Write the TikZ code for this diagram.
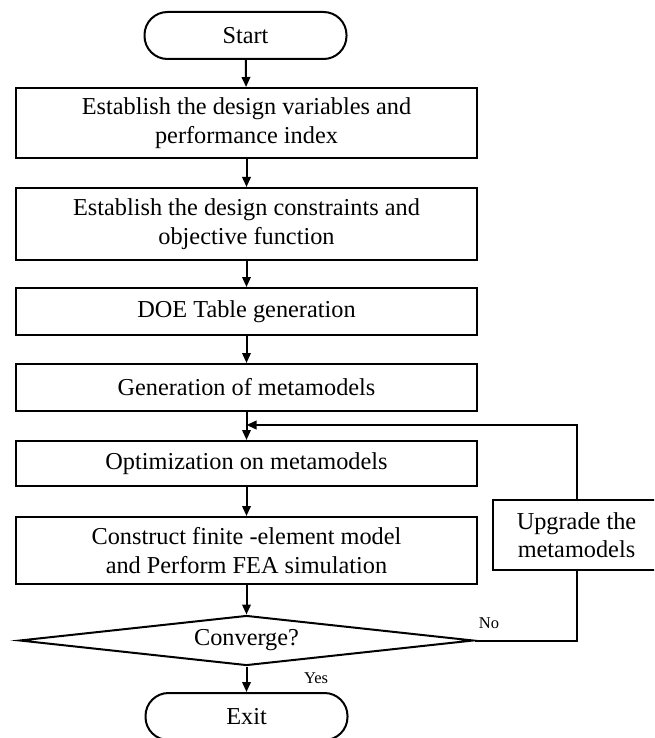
\documentclass[tikz,border=0pt]{standalone}
\usepackage{fontspec}
\setmainfont{Liberation Serif}
\usetikzlibrary{arrows.meta,shapes.geometric}
\begin{document}
\begin{tikzpicture}[x=1pt,y=-1pt,
  every node/.style={font=\fontsize{24.3}{28.5}\selectfont, inner sep=0pt, align=center},
  proc/.style={draw, line width=2pt, minimum width=461pt},
  term/.style={draw, line width=2pt, rounded corners=23pt, minimum width=202pt, minimum height=47pt},
  decision/.style={draw, diamond, line width=2pt, minimum width=454pt, minimum height=50pt, aspect=9},
  lab/.style={font=\fontsize{16.5}{19}\selectfont},
  arr/.style={line width=2pt, -{Triangle[length=10pt,width=8.5pt]}},
  ln/.style={line width=2pt}]
\useasboundingbox (0,0) rectangle (654,738);
\clip (0,0) rectangle (654,738);
\fill[white] (0,0) rectangle (654,738);

\node[term] (start) at (245.5,35.5) {Start};
\node[proc, minimum height=70pt] (b1) at (246.5,123) {Establish the design variables and\\performance index};
\node[proc, minimum height=72pt] (b2) at (246.5,224) {Establish the design constraints and\\objective function};
\node[proc, minimum height=47pt] (b3) at (246.5,311.5) {DOE Table generation};
\node[proc, minimum height=47pt] (b4) at (246.5,387.5) {Generation of metamodels};
\node[proc, minimum height=45pt] (b5) at (246.5,463.5) {Optimization on metamodels};
\node[proc, minimum height=67pt] (b6) at (246.5,550.5) {Construct finite -element model\\and Perform FEA simulation};
\node[decision] (dia) at (246.5,640.5) {Converge?};
\node[term] (exit) at (246.5,716.5) {Exit};
\node[draw, line width=2pt, minimum width=167pt, minimum height=70pt] (up) at (576.5,535) {Upgrade the\\metamodels};
\coordinate (merge) at (246.5,425);

\node[lab] (no) at (489,623) {No};
\node[lab] (yes) at (316,678) {Yes};

\draw[arr] (start) -- (b1);
\draw[arr] (b1) -- (b2);
\draw[arr] (b2) -- (b3);
\draw[arr] (b3) -- (b4);
\draw[arr] (b4) -- (b5);
\draw[arr] (b5) -- (b6);
\draw[arr] (b6) -- (dia.north);
\draw[arr] (dia.south) -- (exit);
\draw[ln] (dia.east) -- (dia.east -| up.south) -- (up.south);
\draw[arr] (up.north) |- (merge);
\end{tikzpicture}
\end{document}
